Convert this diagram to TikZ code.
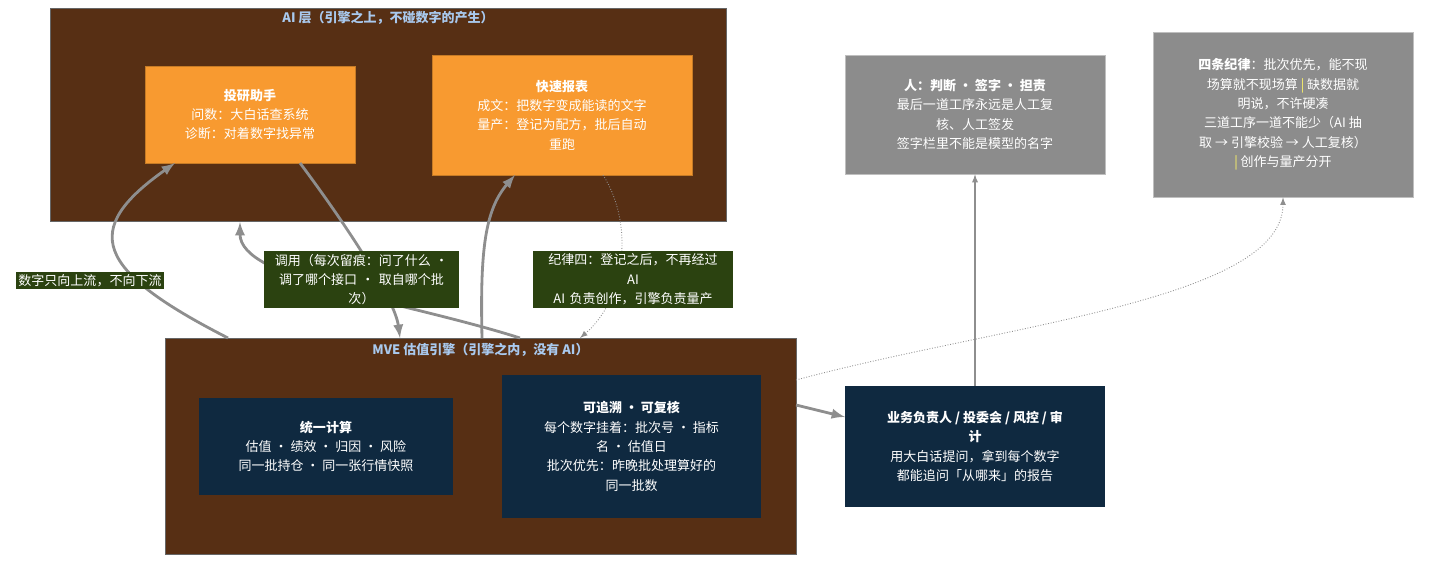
\documentclass[tikz,border=0pt]{standalone}
\usepackage{fontspec}
\setmainfont{Noto Sans CJK SC}
\definecolor{layerbrown}{HTML}{572F14}
\definecolor{aiorange}{HTML}{F89A30}
\definecolor{enginenavy}{HTML}{0F2940}
\definecolor{notegray}{HTML}{8C8C8C}
\definecolor{tagolive}{HTML}{2B4210}
\definecolor{titleblue}{HTML}{A9C9EE}
\definecolor{flowgray}{HTML}{8E8E8E}
\begin{document}
\begin{tikzpicture}
    [
    font=\fontsize{7.4pt}{11pt}\selectfont,
    layer/.style={draw=black!60,fill=layerbrown,inner sep=0pt},
    title/.style={text=titleblue,font=\fontsize{7.4pt}{11pt}\selectfont\bfseries},
    card/.style={align=center,inner sep=0pt,text=white},
    aicard/.style={card,fill=aiorange,draw=aiorange!80!black},
    mvecard/.style={card,fill=enginenavy},
    note/.style={card,fill=notegray,draw=black!25},
    tag/.style={card,fill=tagolive,inner sep=1.5pt},
    flow/.style={draw=flowgray,line width=1.6pt,-latex},
    thin/.style={draw=flowgray,line width=0.6pt,-latex},
    dots/.style={draw=flowgray,densely dotted,line width=0.5pt,-latex}
    ]
    \useasboundingbox (0,0) rectangle (28.58,-11.32);
    % layers
    \node (ai) at (7.76,-2.29) [layer,minimum width=13.52cm,minimum height=4.26cm] {};
    \node (ait) at (7.76,-0.36) [title] {AI 层（引擎之上，不碰数字的产生）};
    \node (mve) at (9.61,-8.92) [layer,minimum width=12.62cm,minimum height=4.32cm] {};
    \node (mvet) at (9.61,-7.0) [title] {MVE 估值引擎（引擎之内，没有 AI）};
    % cards
    \node (ty) at (5.0,-2.29) [aicard,minimum width=4.2cm,minimum height=1.94cm]
        {\textbf{投研助手}\\问数：大白话查系统\\诊断：对着数字找异常};
    \node (kb) at (11.24,-2.30) [aicard,minimum width=5.2cm,minimum height=2.4cm]
        {\textbf{快速报表}\\成文：把数字变成能读的文字\\量产：登记为配方，批后自动\\重跑};
    \node (tj) at (6.52,-8.93) [mvecard,minimum width=5.08cm,minimum height=1.94cm]
        {\textbf{统一计算}\\估值 · 绩效 · 归因 · 风险\\同一批持仓 · 同一张行情快照};
    \node (zs) at (12.63,-8.93) [mvecard,minimum width=5.18cm,minimum height=2.86cm]
        {\textbf{可追溯 · 可复核}\\每个数字挂着：批次号 · 指标\\名 · 估值日\\批次优先：昨晚批处理算好的\\同一批数};
    \node (yw) at (19.5,-8.93) [mvecard,minimum width=5.2cm,minimum height=2.42cm]
        {\textbf{业务负责人 / 投委会 / 风控 / 审}\\\textbf{计}\\用大白话提问，拿到每个数字\\都能追问「从哪来」的报告};
    \node (ren) at (19.5,-2.29) [note,minimum width=5.2cm,minimum height=2.38cm]
        {\textbf{人：判断 · 签字 · 担责}\\最后一道工序永远是人工复\\核、人工签发\\签字栏里不能是模型的名字};
    \node (jl) at (25.66,-2.29) [note,minimum width=5.2cm,minimum height=3.3cm]
        {\textbf{四条纪律}：批次优先，能不现\\场算就不现场算 \textcolor{yellow!60}{|} 缺数据就\\明说，不许硬凑\\三道工序一道不能少（AI 抽\\取 → 引擎校验 → 人工复核）\\\textcolor{yellow!60}{|} 创作与量产分开};
    % free ends on the layers
    \coordinate (mveA) at (4.56,-6.76);
    \coordinate (mveB) at (8.0,-6.76);
    \coordinate (mveC) at (10.4,-6.76);
    \coordinate (mveD) at (9.64,-6.76);
    \coordinate (mveE) at (11.6,-6.76);
    \coordinate (mveF) at (15.92,-8.1);
    \coordinate (mveG) at (15.92,-7.6);
    \coordinate (aiA) at (4.8,-4.44);
    \coordinate (tyA) at (3.5,-3.26);
    \coordinate (tyB) at (6.0,-3.26);
    \coordinate (kbA) at (10.3,-3.5);
    \coordinate (kbB) at (12.06,-3.5);
    \coordinate (ywA) at (16.9,-8.34);
    % connectors
    \draw [flow] (mveA) .. controls (1.9,-5.4) and (1.6,-4.6) .. (tyA);
    \draw [flow] (tyB) .. controls (7.0,-4.6) and (7.9,-6.0) .. (mveB);
    \draw [flow] (mveC) .. controls (8.0,-6.0) and (4.8,-5.6) .. (aiA);
    \draw [flow] (mveD) .. controls (9.6,-5.0) and (9.7,-4.2) .. (kbA);
    \draw [dots] (kbB) .. controls (12.7,-4.5) and (12.5,-6.0) .. (mveE);
    \draw [flow] (mveF) to (ywA);
    \draw [thin] (yw) to (ren);
    \draw [dots] (mveG) .. controls (20,-6.5) and (25.66,-6.0) .. (jl);
    % labels
    \node (up) at (1.8,-5.61) [tag] {数字只向上流，不向下流};
    \node (dy) at (7.23,-5.59) [tag,text width=3.8cm] {调用（每次留痕：问了什么 ·\\调了哪个接口 · 取自哪个批\\次）};
    \node (j4) at (12.66,-5.59) [tag,text width=3.9cm] {纪律四：登记之后，不再经过\\AI\\AI 负责创作，引擎负责量产};
\end{tikzpicture}
\end{document}
